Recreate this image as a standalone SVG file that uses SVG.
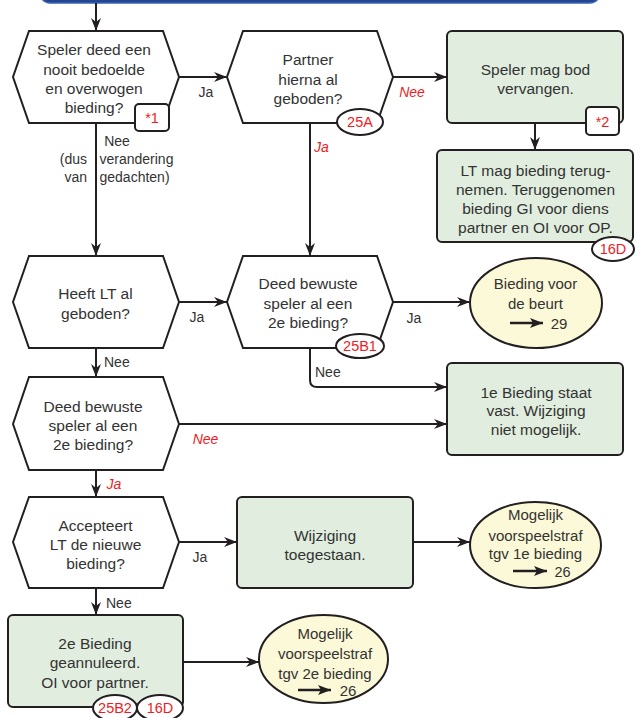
<svg xmlns="http://www.w3.org/2000/svg" width="636" height="718" viewBox="0 0 636 718">
<style>
.hex{fill:#fff;stroke:#231f20;stroke-width:2;stroke-linejoin:miter}
.box{fill:#e1eedf;stroke:#231f20;stroke-width:2}
.ell{fill:#fcf9d8;stroke:#231f20;stroke-width:2}
.badge{fill:#fff;stroke:#231f20;stroke-width:2}
.t{font-family:"Liberation Sans",Arial,sans-serif;font-size:15.5px;fill:#333;text-anchor:middle}
.te{font-family:"Liberation Sans",Arial,sans-serif;font-size:15px;fill:#333;text-anchor:middle}
.lab{font-family:"Liberation Sans",Arial,sans-serif;font-size:14px;fill:#333}
.red{font-family:"Liberation Sans",Arial,sans-serif;font-size:14px;fill:#ed1c24;font-style:italic;text-anchor:middle}
.bt{font-family:"Liberation Sans",Arial,sans-serif;font-size:14.5px;fill:#ed1c24;text-anchor:middle}
.con{fill:none;stroke:#231f20;stroke-width:2}
.inner{fill:none;stroke:#231f20;stroke-width:2.5}
</style>
<defs>
<marker id="ah" markerUnits="userSpaceOnUse" markerWidth="14" markerHeight="11" refX="13" refY="5" orient="auto">
<path d="M0,0 L13,5 L0,10 L4,5 z" fill="#231f20"/>
</marker>
<marker id="ahs" markerUnits="userSpaceOnUse" markerWidth="14" markerHeight="11" refX="13" refY="5" orient="auto">
<path d="M0,0 L13,5 L0,10 L3,5 z" fill="#231f20"/>
</marker>
</defs>
<rect width="636" height="718" fill="#fff"/>
<rect id="banner" x="40" y="-30" width="560" height="33" rx="10" fill="#244590" stroke="#3a62b3" stroke-width="1.5"/>

<g id="connectors">
<path class="con" d="M96,3 V31" marker-end="url(#ah)"/>
<path class="con" d="M179,77 H227" marker-end="url(#ah)"/>
<path class="con" d="M393,77 H447" marker-end="url(#ah)"/>
<path class="con" d="M535,123 V150" marker-end="url(#ah)"/>
<path class="con" d="M96,123 V256" marker-end="url(#ah)"/>
<path class="con" d="M310,123 V256" marker-end="url(#ah)"/>
<path class="con" d="M179,302 H227" marker-end="url(#ah)"/>
<path class="con" d="M393,302 H470" marker-end="url(#ah)"/>
<path class="con" d="M310,348 V380 Q310,387 317,387 H447" marker-end="url(#ah)"/>
<path class="con" d="M96,348 V377" marker-end="url(#ah)"/>
<path class="con" d="M179,424 H447" marker-end="url(#ah)"/>
<path class="con" d="M96,470 V497" marker-end="url(#ah)"/>
<path class="con" d="M179,542 H237" marker-end="url(#ah)"/>
<path class="con" d="M413,542 H470" marker-end="url(#ah)"/>
<path class="con" d="M96,588 V615" marker-end="url(#ah)"/>
<path class="con" d="M183,662 H259" marker-end="url(#ah)"/>
<text class="lab" x="206" y="97" text-anchor="middle">Ja</text>
<text class="red" x="412" y="97">Nee</text>
<text class="red" x="321.5" y="152">Ja</text>
<text class="lab" x="117" y="146" text-anchor="middle">Nee</text>
<text class="lab" x="87" y="164" text-anchor="end">(dus</text>
<text class="lab" x="99.5" y="164">verandering</text>
<text class="lab" x="87" y="182" text-anchor="end">van</text>
<text class="lab" x="99.5" y="182">gedachten)</text>
<text class="lab" x="197" y="322" text-anchor="middle">Ja</text>
<text class="lab" x="104" y="367">Nee</text>
<text class="lab" x="414" y="323" text-anchor="middle">Ja</text>
<text class="lab" x="315" y="377">Nee</text>
<text class="red" x="205.5" y="444">Nee</text>
<text class="red" x="114" y="489">Ja</text>
<text class="lab" x="200" y="562" text-anchor="middle">Ja</text>
<text class="lab" x="106" y="608">Nee</text>
</g>

<g id="q1">
<polygon class="hex" points="29,31 163,31 179,77 163,123 29,123 13,77"/>
<text class="t" x="94" y="55">Speler deed een</text>
<text class="t" x="94" y="74.5">nooit bedoelde</text>
<text class="t" x="94" y="94">en overwogen</text>
<text class="t" x="94" y="113">bieding?</text>
<rect class="badge" x="135" y="104" width="34" height="27" rx="4"/>
<text class="bt" x="152" y="123">*1</text>
</g>

<g id="q2">
<polygon class="hex" points="243,31 377,31 393,77 377,123 243,123 227,77"/>
<text class="t" x="308" y="64.5">Partner</text>
<text class="t" x="308" y="84.5">hierna al</text>
<text class="t" x="308" y="103.5">geboden?</text>
<ellipse class="badge" cx="360" cy="122" rx="23" ry="13"/>
<text class="bt" x="360" y="127">25A</text>
</g>

<g id="b1">
<rect class="box" x="447" y="31" width="176" height="92" rx="5"/>
<text class="t" x="535.5" y="74.5">Speler mag bod</text>
<text class="t" x="535.5" y="93.5">vervangen.</text>
<rect class="badge" x="586" y="107" width="33" height="28" rx="4"/>
<text class="bt" x="602.5" y="127">*2</text>
</g>

<g id="b2">
<rect class="box" x="437" y="150" width="196" height="92" rx="5"/>
<text class="t" x="535.5" y="175.5">LT mag bieding terug-</text>
<text class="t" x="535.5" y="194.5">nemen. Teruggenomen</text>
<text class="t" x="535.5" y="213.5">bieding GI voor diens</text>
<text class="t" x="535.5" y="232.5">partner en OI voor OP.</text>
<ellipse class="badge" cx="613" cy="249" rx="21" ry="12"/>
<text class="bt" x="613" y="254">16D</text>
</g>

<g id="q3">
<polygon class="hex" points="29,256 163,256 179,302 163,348 29,348 13,302"/>
<text class="t" x="95.5" y="298.5">Heeft LT al</text>
<text class="t" x="95.5" y="318.5">geboden?</text>
</g>

<g id="q4">
<polygon class="hex" points="243,256 377,256 393,302 377,348 243,348 227,302"/>
<text class="t" x="308" y="288.5">Deed bewuste</text>
<text class="t" x="308" y="308.5">speler al een</text>
<text class="t" x="308" y="327.5">2e bieding?</text>
<ellipse class="badge" cx="360" cy="346" rx="24" ry="12"/>
<text class="bt" x="360" y="351">25B1</text>
</g>

<g id="e1">
<ellipse class="ell" cx="536" cy="303" rx="66" ry="45"/>
<text class="te" x="535.5" y="288.5">Bieding voor</text>
<text class="te" x="535.5" y="308.5">de beurt</text>
<path class="inner" d="M510,323 H543" marker-end="url(#ahs)"/>
<text class="te" x="559" y="328.5">29</text>
</g>

<g id="b3">
<rect class="box" x="447" y="363" width="176" height="92" rx="5"/>
<text class="t" x="536" y="397.5">1e Bieding staat</text>
<text class="t" x="536" y="416">vast. Wijziging</text>
<text class="t" x="536" y="435">niet mogelijk.</text>
</g>

<g id="q5">
<polygon class="hex" points="29,377 163,377 179,424 163,470 29,470 13,424"/>
<text class="t" x="93" y="411.5">Deed bewuste</text>
<text class="t" x="93" y="430.5">speler al een</text>
<text class="t" x="93" y="449.5">2e bieding?</text>
</g>

<g id="q6">
<polygon class="hex" points="29,497 163,497 179,542 163,588 29,588 13,542"/>
<text class="t" x="95.5" y="530.5">Accepteert</text>
<text class="t" x="95.5" y="549.5">LT de nieuwe</text>
<text class="t" x="95.5" y="568.5">bieding?</text>
</g>

<g id="b4">
<rect class="box" x="237" y="497" width="176" height="91" rx="5"/>
<text class="t" x="325" y="540.5">Wijziging</text>
<text class="t" x="325" y="559.5">toegestaan.</text>
</g>

<g id="e2">
<ellipse class="ell" cx="535.5" cy="545" rx="65.5" ry="43"/>
<text class="te" x="535.5" y="520">Mogelijk</text>
<text class="te" x="535.5" y="540.5">voorspeelstraf</text>
<text class="te" x="535.5" y="559">tgv 1e bieding</text>
<path class="inner" d="M513,571 H547" marker-end="url(#ahs)"/>
<text class="te" x="562.5" y="576.5" style="font-size:14.5px">26</text>
</g>

<g id="b5">
<rect class="box" x="8" y="615" width="175" height="92" rx="5"/>
<text class="t" x="95" y="648.5">2e Bieding</text>
<text class="t" x="95" y="668">geannuleerd.</text>
<text class="t" x="95" y="687.5">OI voor partner.</text>
<ellipse class="badge" cx="115" cy="708" rx="22" ry="13"/>
<text class="bt" x="115" y="713">25B2</text>
<ellipse class="badge" cx="160" cy="708" rx="23" ry="13"/>
<text class="bt" x="160" y="713">16D</text>
</g>

<g id="e3">
<ellipse class="ell" cx="323.5" cy="659" rx="64.5" ry="44"/>
<text class="te" x="325" y="638.5">Mogelijk</text>
<text class="te" x="325" y="658.5">voorspeelstraf</text>
<text class="te" x="325" y="678.5">tgv 2e bieding</text>
<path class="inner" d="M298,690 H331" marker-end="url(#ahs)"/>
<text class="te" x="348" y="695.5">26</text>
</g>
</svg>
